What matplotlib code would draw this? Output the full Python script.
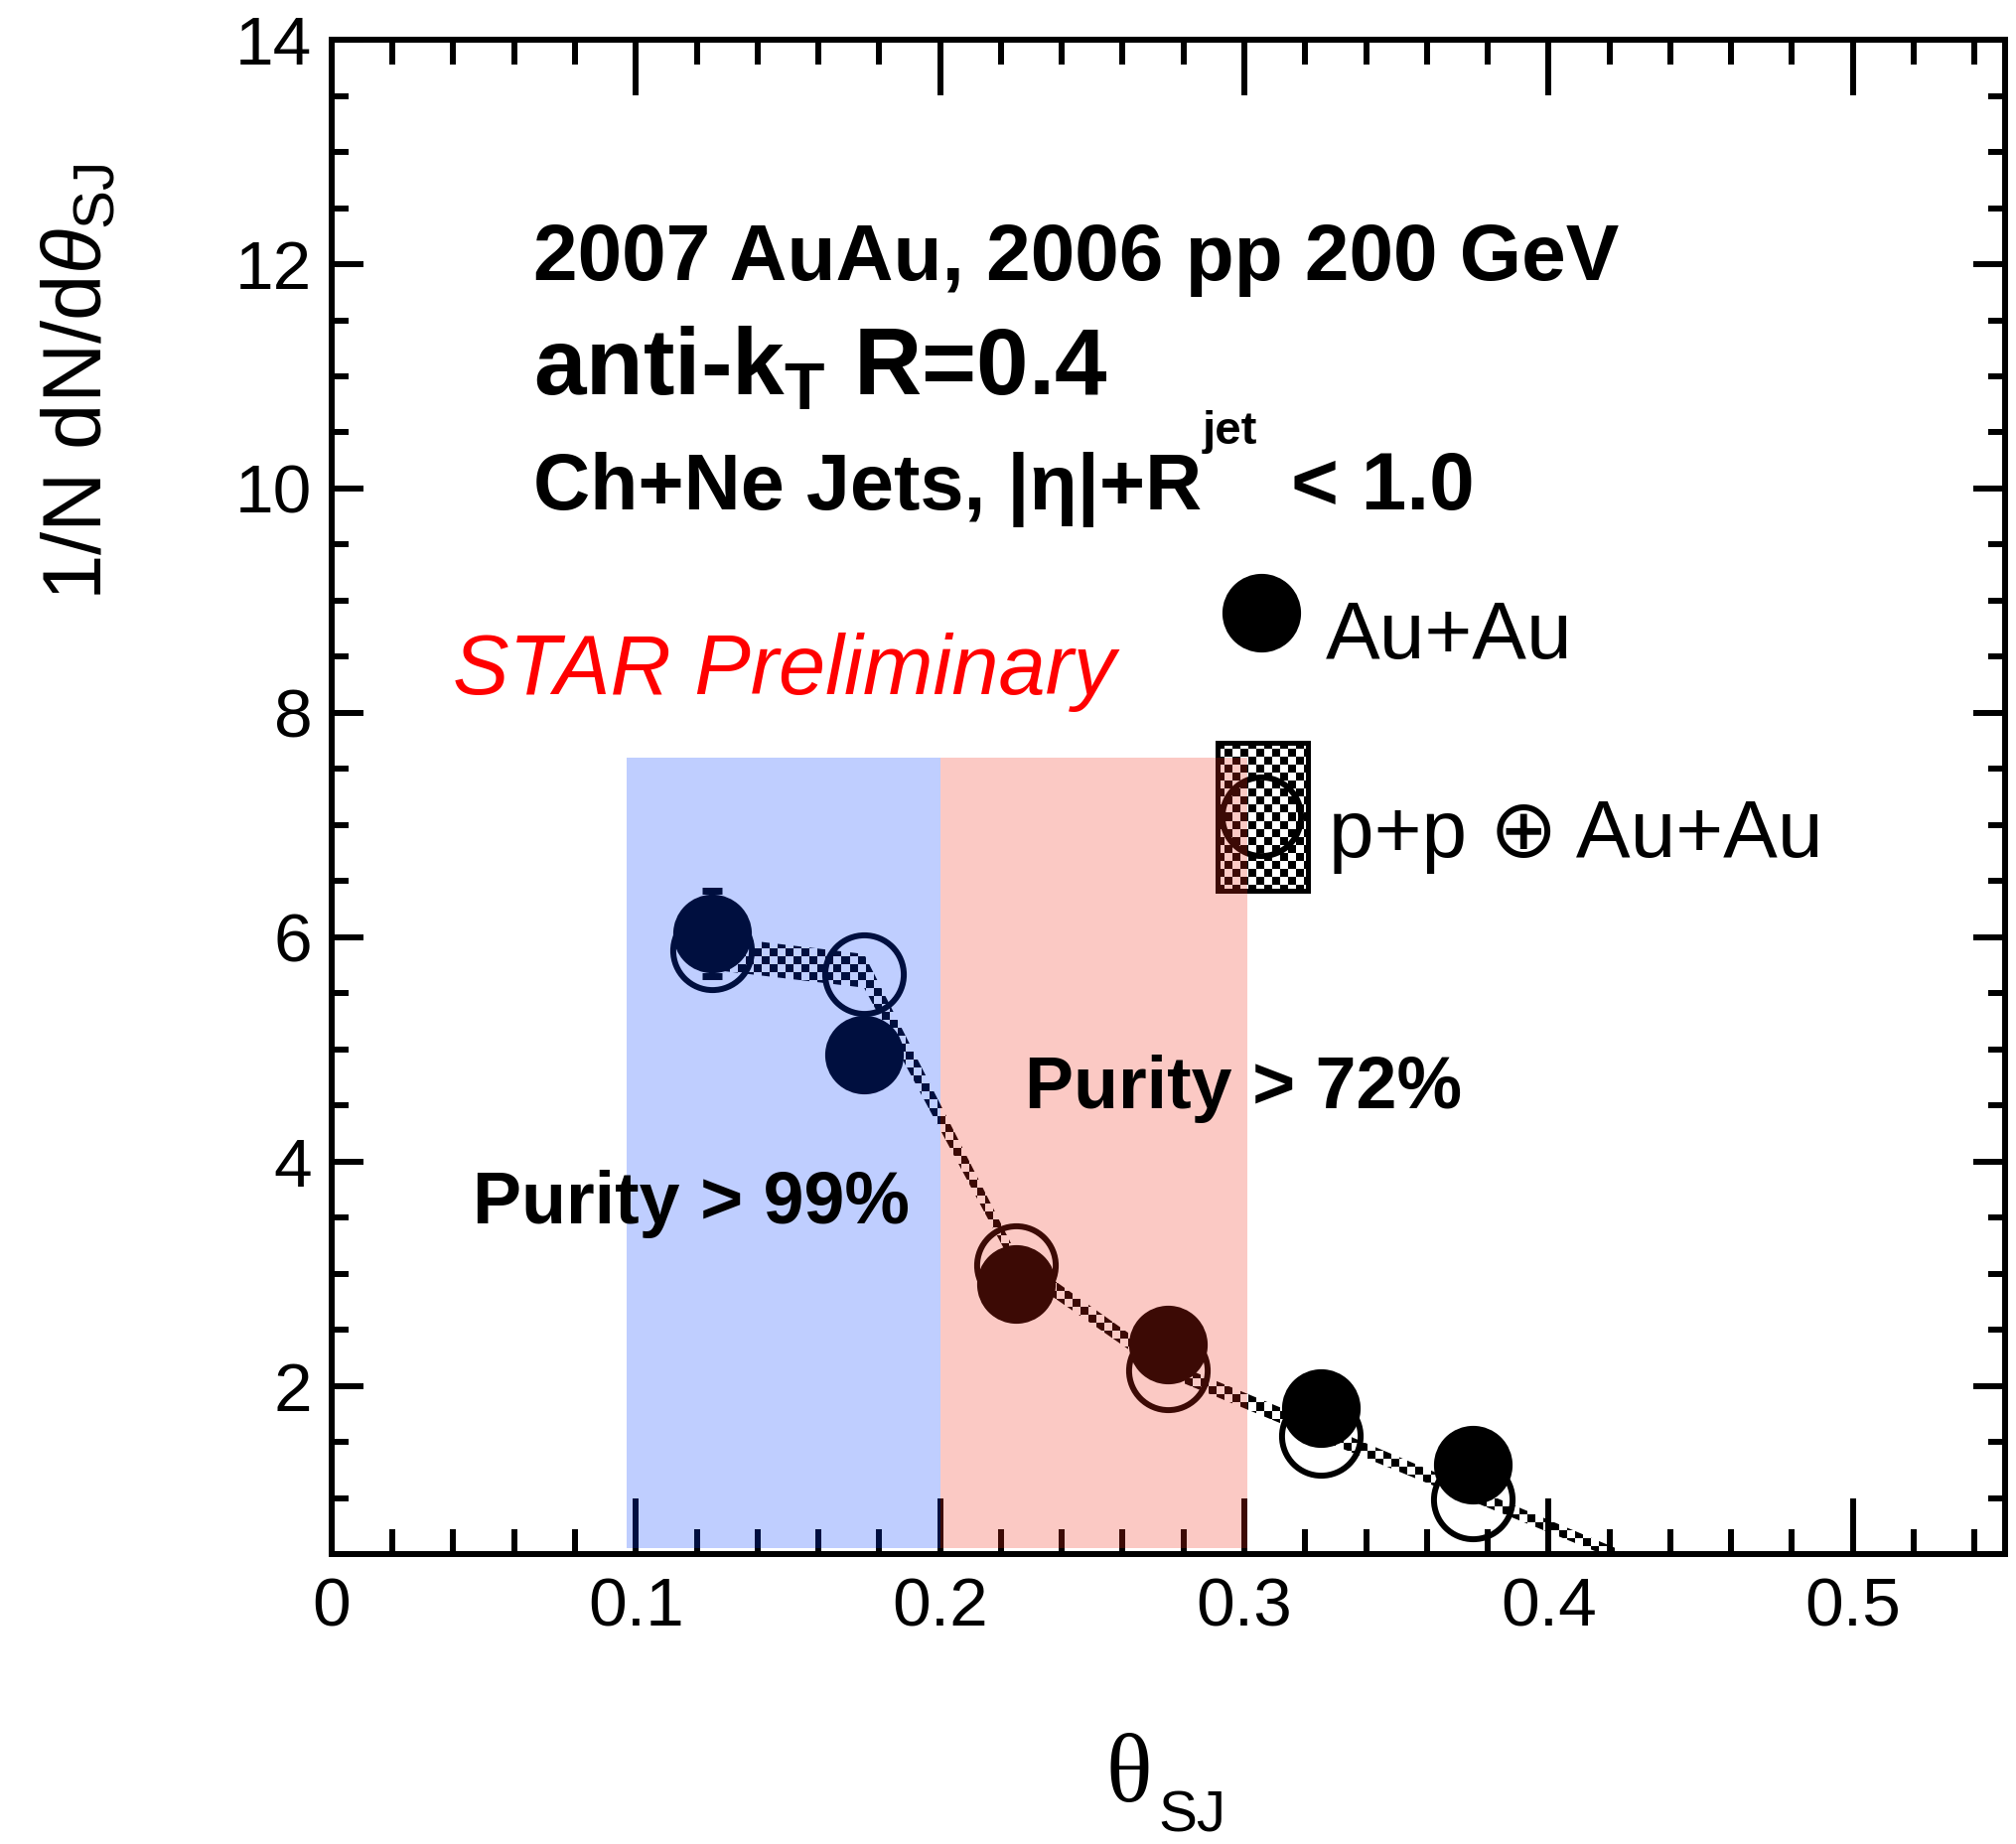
import numpy as np
import matplotlib
matplotlib.use('Agg')
from matplotlib import pyplot as plt
from matplotlib.patches import Polygon, Rectangle

plt.rcParams['font.family'] = ['Liberation Sans', 'DejaVu Sans']
plt.rcParams['mathtext.fontset'] = 'custom'
plt.rcParams['mathtext.rm'] = 'Liberation Sans'
plt.rcParams['mathtext.it'] = 'Liberation Sans:italic'
plt.rcParams['mathtext.bf'] = 'Liberation Sans:bold'

# subjet opening angle bins
theta_sj = [0.125, 0.175, 0.225, 0.275, 0.325, 0.375]
auau_vals = [6.03, 4.95, 2.91, 2.37, 1.80, 1.30]
auau_errs = [0.38, 0.20, 0.12, 0.10, 0.09, 0.08]
pp_emb_vals = [5.88, 5.67, 3.08, 2.14, 1.55, 0.99]

# systematic band of the p+p (+) Au+Au reference
sys_x = [0.125, 0.175, 0.225, 0.275, 0.325, 0.375, 0.425]
sys_y = [5.86, 5.70, 3.10, 2.15, 1.59, 1.03, 0.47]
sys_half = [0.15, 0.15, 0.08, 0.07, 0.07, 0.06, 0.05]

# purity regions
purity_edges = [0.097, 0.2, 0.301]
purity_bottom = 0.55
purity_top = 7.6
purity_colors = [(0.0, 0.24, 1.0), (0.94, 0.16, 0.08)]

x_ticks = [0, 0.1, 0.2, 0.3, 0.4, 0.5]
x_ticklabels = ['0', '0.1', '0.2', '0.3', '0.4', '0.5']
y_ticks = [2, 4, 6, 8, 10, 12, 14]
y_ticklabels = ['2', '4', '6', '8', '10', '12', '14']

fig = plt.figure(figsize=(20.30, 18.57), dpi=100)
ax = fig.add_axes([0.1645, 0.1572, 0.8300, 0.8212])


def checker_image(clip_patch):
    # black / transparent checkerboard, 8 px cells
    cell = 8
    nx, ny = int(0.83 * 2030) // cell, int(0.8212 * 1857) // cell
    ii, jj = np.indices((ny, nx))
    rgba = np.zeros((ny, nx, 4))
    rgba[..., 3] = ((ii + jj) % 2).astype(float)
    im = ax.imshow(rgba, extent=(0, 1, 0, 1), transform=ax.transAxes,
                   interpolation='nearest', aspect='auto', zorder=2)
    im.set_clip_path(clip_patch)
    return im


# systematic band
upper = np.array(sys_y) + np.array(sys_half)
lower = np.array(sys_y) - np.array(sys_half)
verts = np.column_stack([np.r_[sys_x, sys_x[::-1]], np.r_[upper, lower[::-1]]])
band = Polygon(verts, closed=True, facecolor='none', edgecolor='none',
               transform=ax.transData)
ax.add_patch(band)
checker_image(band)

# data points
ax.plot(theta_sj, pp_emb_vals, 'o', ms=57, mfc='none', mec='k', mew=4.3, zorder=3)
ax.errorbar(theta_sj, auau_vals, yerr=auau_errs, fmt='o', ms=56, color='k',
            elinewidth=4.3, capsize=7.2, capthick=5, zorder=4)

# legend
ax.plot([0.5555], [0.6216], 'o', ms=56, color='k', transform=ax.transAxes,
        clip_on=False, zorder=4)
leg_box = Rectangle((0.5294, 0.438), 0.0540, 0.0977, transform=ax.transAxes,
                    facecolor='none', edgecolor='k', lw=3.6, zorder=3)
ax.add_patch(leg_box)
checker_image(leg_box)
ax.plot([0.5555], [0.487], 'o', ms=57, mfc='none', mec='k', mew=4.3,
        transform=ax.transAxes, clip_on=False, zorder=3)
ax.text(0.594, 0.5915, 'Au+Au', fontsize=59, transform=ax.transAxes,
        va='baseline', zorder=6)
ax.text(0.5959, 0.4603, 'p+p \u2295 Au+Au', fontsize=59, transform=ax.transAxes,
        va='baseline', zorder=6)

# purity shading drawn over everything
for x0, x1, col in zip(purity_edges[:-1], purity_edges[1:], purity_colors):
    ax.add_patch(Rectangle((x0, purity_bottom), x1 - x0, purity_top - purity_bottom,
                           facecolor=col, edgecolor='none', alpha=0.25, zorder=5))

# annotations
ax.text(0.1205, 0.8413, '2007 AuAu, 2006 pp 200 GeV', fontsize=57.8,
        fontweight='bold', transform=ax.transAxes, va='baseline', zorder=6)
ax.text(0.1205, 0.7659, r'anti-k$_{\mathbf{T}}$ R=0.4', fontsize=68,
        fontweight='bold', transform=ax.transAxes, va='baseline', zorder=6)
ax.text(0.1205, 0.6898, 'Ch+Ne Jets, |\u03b7|+R', fontsize=57,
        fontweight='bold', transform=ax.transAxes, va='baseline', zorder=6)
ax.text(0.5205, 0.7331, 'jet', fontsize=34, fontweight='bold',
        transform=ax.transAxes, va='baseline', zorder=6)
ax.text(0.5733, 0.6898, '< 1.0', fontsize=59, fontweight='bold',
        transform=ax.transAxes, va='baseline', zorder=6)
ax.text(0.0724, 0.5679, 'STAR Preliminary', fontsize=61, style='italic',
        color='red', transform=ax.transAxes, va='baseline', zorder=6)
ax.text(0.4142, 0.2944, 'Purity > 72%', fontsize=53, fontweight='bold',
        transform=ax.transAxes, va='baseline', zorder=6)
ax.text(0.0843, 0.2184, 'Purity > 99%', fontsize=53, fontweight='bold',
        transform=ax.transAxes, va='baseline', zorder=6)

# axis titles
ax.text(-0.1507, 0.918, r'1/N dN/d$\theta_{\mathrm{SJ}}$', fontsize=60,
        rotation=90, ha='center', va='top', transform=ax.transAxes)
ax.text(0.4625, -0.163, '\u03b8', fontsize=70, family='Liberation Serif',
        transform=ax.transAxes, va='baseline')
ax.text(0.494, -0.183, 'SJ', fontsize=42, transform=ax.transAxes, va='baseline')

# axes
ax.set_xlim(0, 0.55)
ax.set_ylim(0.5, 14)
ax.set_xticks(x_ticks)
ax.set_xticklabels(x_ticklabels)
ax.set_yticks(y_ticks)
ax.set_yticklabels(y_ticklabels)
ax.set_xticks(np.arange(0, 0.551, 0.02), minor=True)
ax.set_yticks(np.arange(0.5, 14.01, 0.5), minor=True)
ax.tick_params(which='both', direction='in', top=True, right=True, width=4.3,
               colors='k', labelsize=50)
ax.tick_params(axis='x', which='major', length=40, pad=16)
ax.tick_params(axis='x', which='minor', length=18)
ax.tick_params(axis='y', which='major', length=23, pad=14)
ax.tick_params(axis='y', which='minor', length=12)
for sp in ax.spines.values():
    sp.set_linewidth(4.3)

fig.savefig('out.png', dpi=100)
